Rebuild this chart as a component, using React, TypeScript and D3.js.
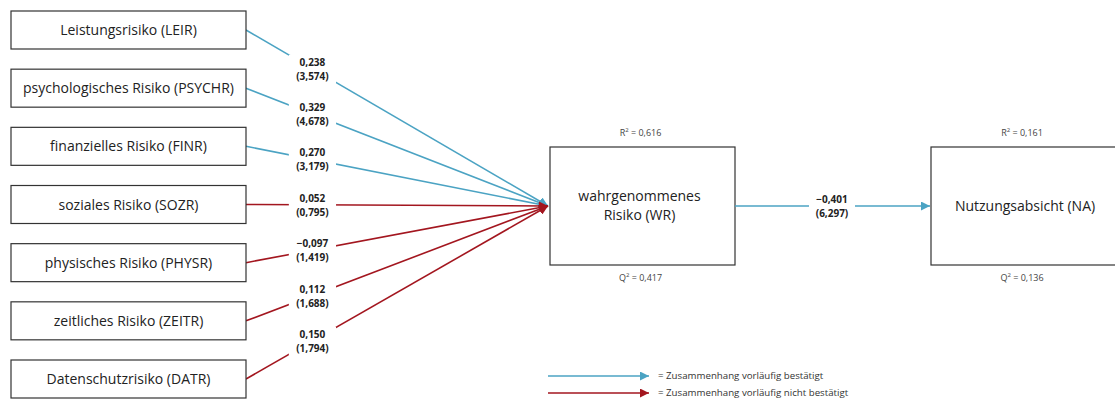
import * as d3 from 'd3';
import React from 'react';

// source constructs (left column)
const sources = [
  'Leistungsrisiko (LEIR)',
  'psychologisches Risiko (PSYCHR)',
  'finanzielles Risiko (FINR)',
  'soziales Risiko (SOZR)',
  'physisches Risiko (PHYSR)',
  'zeitliches Risiko (ZEITR)',
  'Datenschutzrisiko (DATR)',
];
const coefs = ['0,238', '0,329', '0,270', '0,052', '\u22120,097', '0,112', '0,150'];
const tValues = ['(3,574)', '(4,678)', '(3,179)', '(0,795)', '(1,419)', '(1,688)', '(1,794)'];
const confirmed = [true, true, true, false, false, false, false];

const wrLines = ['wahrgenommenes', 'Risiko (WR)'];
const naLabel = 'Nutzungsabsicht (NA)';
const wrR2 = '0,616';
const wrQ2 = '0,417';
const naR2 = '0,161';
const naQ2 = '0,136';
const wrNaCoef = '\u22120,401';
const wrNaT = '(6,297)';

const legendLabels = [
  '= Zusammenhang vorläufig bestätigt',
  '= Zusammenhang vorläufig nicht bestätigt',
];

const BLUE = '#4ba3c3';
const RED = '#a3161f';
const FONT = '"Open Sans", sans-serif';

export default function App() {
  const W = 1115;
  const H = 402;

  // layout
  const boxX = 11;
  const boxW = 235;
  const boxH = 38;
  const y = d3.scalePoint<string>().domain(sources).range([30, 379]);

  const wr = { x: 550, y: 147, w: 185, h: 118 };
  const na = { x: 931, y: 147, w: 190, h: 118 };
  const midY = wr.y + wr.h / 2;

  const t = 0.22; // where labels sit along the paths
  const x = d3.scaleLinear().domain([0, 1]).range([boxX + boxW, wr.x - 2]);

  const arrowMarker = (id: string, color: string) => (
    <marker
      id={id}
      viewBox="0 0 10 10"
      refX={10}
      refY={5}
      markerWidth={9}
      markerHeight={9}
      markerUnits="userSpaceOnUse"
      orient="auto"
    >
      <path d="M0,0 L10,5 L0,10 z" fill={color} />
    </marker>
  );

  const sq = (label: string, v: string, cx: number, cy: number) => (
    <text x={cx} y={cy} textAnchor="middle" fontSize={9} fill="#444" fontFamily={FONT}>
      {label}
      <tspan fontSize={6} dy={-4}>2</tspan>
      <tspan dy={4}>{' = ' + v}</tspan>
    </text>
  );

  return (
    <svg
      width={W}
      height={H}
      style={{ position: 'absolute', left: 0, top: 0, background: '#fff' }}
      fontFamily={FONT}
    >
      <defs>
        {arrowMarker('arBlue', BLUE)}
        {arrowMarker('arRed', RED)}
      </defs>

      {/* paths from sources to WR */}
      {sources.map((s, i) => {
        const y0 = y(s)!;
        const yl = d3.scaleLinear().domain([0, 1]).range([y0, midY]);
        const color = confirmed[i] ? BLUE : RED;
        const lx = x(t);
        const ly = yl(t);
        const w = Math.max(coefs[i].length, tValues[i].length) * 5.6 + 8;
        return (
          <g key={s}>
            <line
              x1={x(0)}
              y1={y0}
              x2={x(1)}
              y2={midY}
              stroke={color}
              strokeWidth={1.6}
              markerEnd={`url(#${confirmed[i] ? 'arBlue' : 'arRed'})`}
            />
            <rect x={lx - w / 2} y={ly - 14} width={w} height={29} fill="#fff" />
            <text x={lx} y={ly - 3} textAnchor="middle" fontSize={10} fontWeight="bold" fill="#222">
              {coefs[i]}
            </text>
            <text x={lx} y={ly + 11} textAnchor="middle" fontSize={10} fontWeight="bold" fill="#222">
              {tValues[i]}
            </text>
          </g>
        );
      })}

      {/* source boxes */}
      {sources.map((s) => (
        <g key={'b' + s}>
          <rect
            x={boxX}
            y={y(s)! - boxH / 2}
            width={boxW}
            height={boxH}
            fill="#fff"
            stroke="#333"
            strokeWidth={1.2}
          />
          <text x={boxX + boxW / 2} y={y(s)! + 5} textAnchor="middle" fontSize={14} fill="#222">
            {s}
          </text>
        </g>
      ))}

      {/* WR box */}
      <rect x={wr.x} y={wr.y} width={wr.w} height={wr.h} fill="#fff" stroke="#333" strokeWidth={1.2} />
      {wrLines.map((l, i) => (
        <text key={l} x={wr.x + wr.w / 2 - 3} y={midY - 5 + i * 19} textAnchor="middle" fontSize={14} fill="#222">
          {l}
        </text>
      ))}
      {sq('R', wrR2, wr.x + wr.w / 2 - 2, 136)}
      {sq('Q', wrQ2, wr.x + wr.w / 2 - 2, 281)}

      {/* WR -> NA */}
      <line
        x1={wr.x + wr.w}
        y1={midY}
        x2={na.x - 1}
        y2={midY}
        stroke={BLUE}
        strokeWidth={1.6}
        markerEnd="url(#arBlue)"
      />
      <rect x={809} y={192} width={46} height={29} fill="#fff" />
      <text x={832} y={203} textAnchor="middle" fontSize={10} fontWeight="bold" fill="#222">
        {wrNaCoef}
      </text>
      <text x={832} y={217} textAnchor="middle" fontSize={10} fontWeight="bold" fill="#222">
        {wrNaT}
      </text>

      {/* NA box */}
      <rect x={na.x} y={na.y} width={na.w} height={na.h} fill="#fff" stroke="#333" strokeWidth={1.2} />
      <text x={1025} y={midY + 5} textAnchor="middle" fontSize={14} fill="#222">
        {naLabel}
      </text>
      {sq('R', naR2, 1022, 136)}
      {sq('Q', naQ2, 1022, 281)}

      {/* legend */}
      {legendLabels.map((l, i) => (
        <g key={l}>
          <line
            x1={548}
            y1={376 + i * 17}
            x2={649}
            y2={376 + i * 17}
            stroke={i === 0 ? BLUE : RED}
            strokeWidth={1.6}
            markerEnd={`url(#${i === 0 ? 'arBlue' : 'arRed'})`}
          />
          <text x={658} y={379 + i * 17} fontSize={9.7} fill="#333">
            {l}
          </text>
        </g>
      ))}
    </svg>
  );
}
